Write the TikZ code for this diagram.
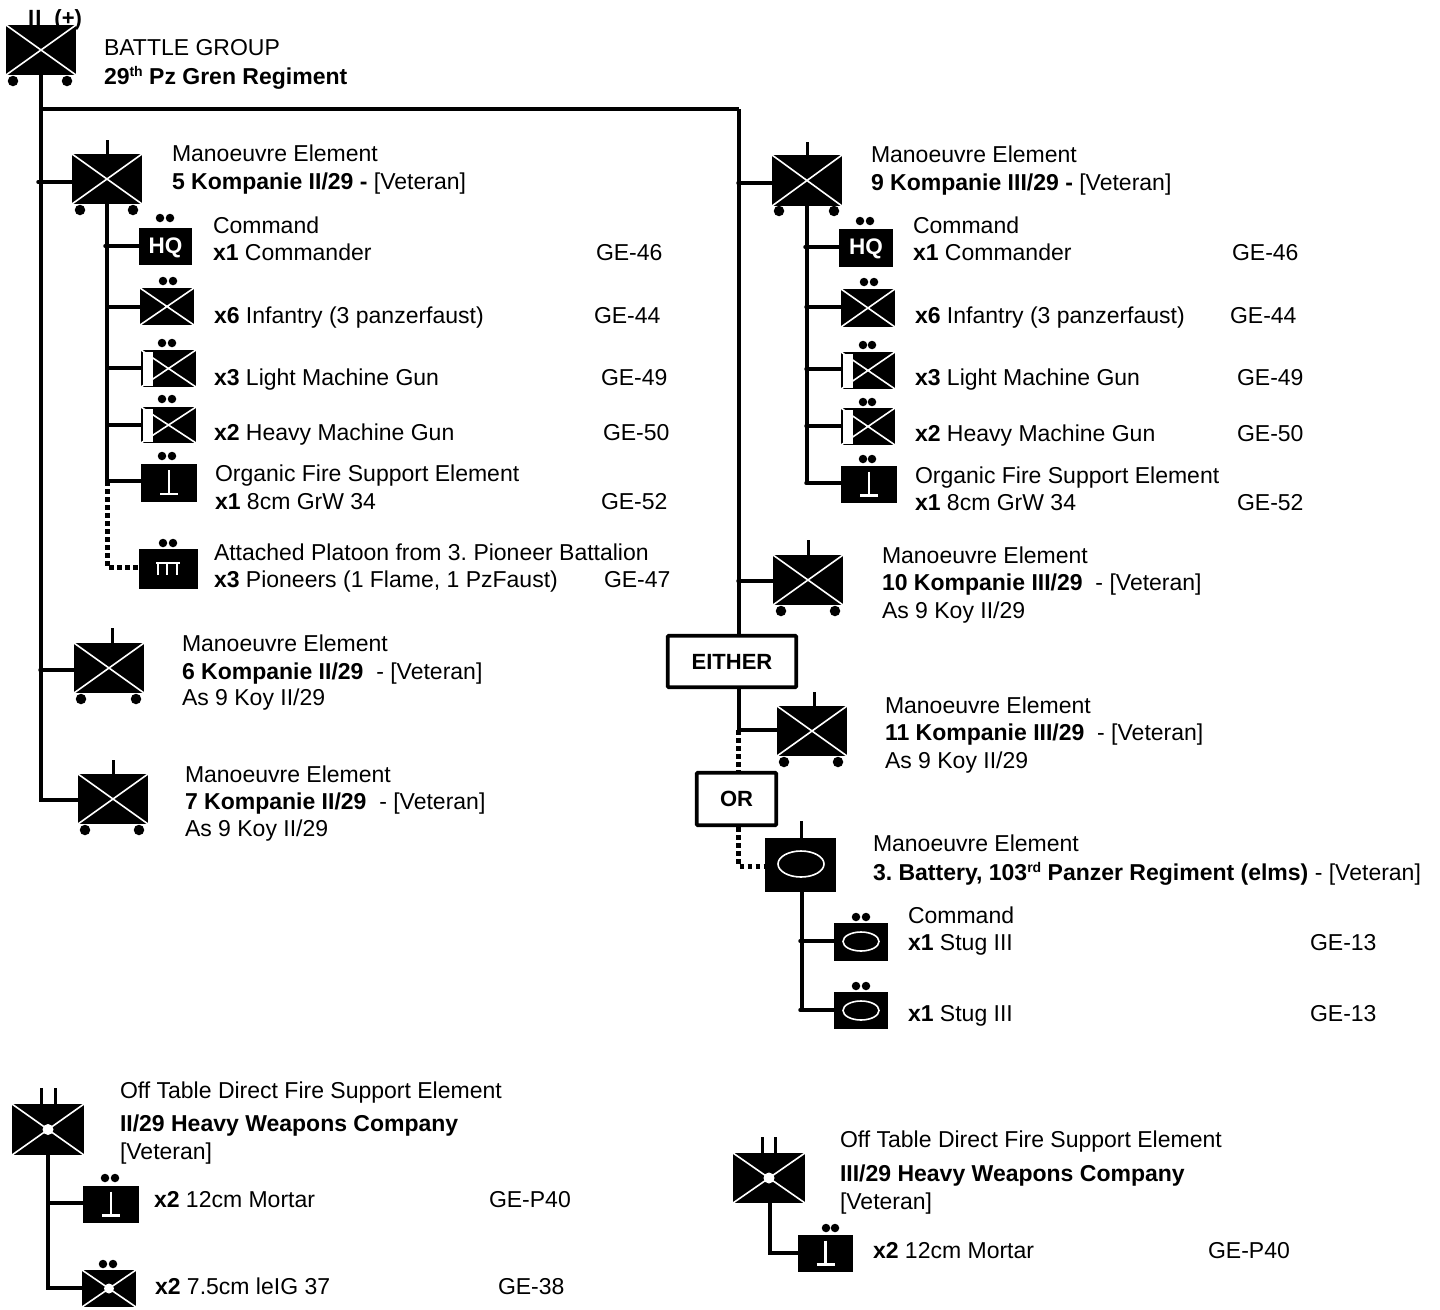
\documentclass[tikz,border=0pt]{standalone}
\usepackage{fontspec}
\setmainfont{Liberation Sans}
\usetikzlibrary{calc,shapes.geometric}
\newcommand\supr[1]{\raisebox{7.5pt}{\fontsize{14}{14}\selectfont #1}}
\tikzset{
  lbl/.style={inner sep=0pt,outer sep=0pt,anchor=base west,font=\fontsize{23}{25}\selectfont\frenchspacing,text=black},
  sym/.style={fill=black,draw=none,inner sep=0pt,outer sep=0pt},
  dotm/.style={circle,fill=black,draw=none,inner sep=0pt,minimum size=8.5pt},
  wheel/.style={circle,fill=black,draw=none,inner sep=0pt,minimum size=10.5pt},
  whitex/.style={draw=white,line width=1.6pt},
  conn/.style={draw=black,line width=4pt},
  thinconn/.style={draw=black,line width=3.5pt},
  dotconn/.style={draw=black,line width=5pt,dash pattern=on 4.5pt off 3.5pt},
  tick/.style={draw=black,line width=3pt},
  framebox/.style={draw=black,fill=white,line width=3.6pt,rounded corners=1pt,inner sep=0pt,font=\fontsize{22}{25}\selectfont\bfseries},
  whitesolid/.style={draw=white,line width=2.6pt},
}
\newcommand\rbox[5]{\node[sym,minimum width={(#4-#2)*1pt},minimum height={(#5-#3)*1pt}] (#1) at ({(#2+#4)/2},{(#3+#5)/2}) {};}
\newcommand\xbox[5]{\rbox{#1}{#2}{#3}{#4}{#5}
  \draw[whitex] (#1.north west) -- (#1.south east) (#1.north east) -- (#1.south west);}
\newcommand\wheels[4]{\node[wheel] (#1-wl) at (#2,#4) {}; \node[wheel] (#1-wr) at (#3,#4) {};}
\newcommand\twodots[4]{\node[dotm] (#1-da) at (#2,#4) {}; \node[dotm] (#1-db) at (#3,#4) {};}
\newcommand\onetick[4]{\coordinate (#1-t) at (#2,#3); \draw[tick] (#1-t) -- (#1-t |- #4.north);}
\newcommand\branch[4]{\coordinate (#1) at (#2,#3); \draw[thinconn,line cap=round] (#1) -- (#1 -| #4.west);}
\newcommand\mgbox[5]{\xbox{#1}{#2}{#3}{#4}{#5}
  \node[fill=white,draw=none,inner sep=0pt,minimum width=10pt,minimum height={(#5-#3-3)*1pt}] (#1-w) at ({#2+7},{(#3+#5)/2}) {};}
\newcommand\teesym[2]{\coordinate (#1-a) at ($(#2.center)+(0,-13)$); \coordinate (#1-b) at ($(#2.center)+(0,11)$);
  \draw[whitesolid] (#1-a) -- (#1-b);
  \draw[whitesolid,line width=2.8pt] ($(#1-b)+(-9,0)$) -- ($(#1-b)+(9,0)$);}
\newcommand\ovalsym[4]{\node[ellipse,draw=white,line width=1.6pt,fill=black,minimum width=#3pt,minimum height=#4pt,inner sep=0pt] (#1) at (#2) {};}
\newcommand\hub[2]{\node[circle,fill=white,inner sep=0pt,minimum size=#2pt] (#1-hub) at (#1.center) {};}
\begin{document}
\begin{tikzpicture}[x=1pt,y=-1pt]
\useasboundingbox (0,0) rectangle (1440,1309);

% --- top battle group
\node[inner sep=0pt,anchor=base west,font=\fontsize{22}{26}\selectfont\bfseries] (bgtag) at (28,25) {I\hspace*{1pt}I\hspace*{13pt}(+)};
\xbox{bg}{6}{25}{76}{75}
\wheels{bg}{13}{67}{81}
\node[lbl] (t1) at (104,55) {BATTLE GROUP};
\node[lbl] (t2) at (104,84) {\textbf{29\supr{th} Pz Gren Regiment}};

% --- main trunks
\coordinate (ltrunk) at (41,800);
\coordinate (rtop) at (738.5,109);
\coordinate (ljoin) at (41,109);

% --- 5 Kompanie
\xbox{u5}{72}{154}{142}{204}
\wheels{u5}{80}{133}{210}
\onetick{u5}{107}{140}{u5}
\node[lbl] (a1) at (172,161) {Manoeuvre Element};
\node[lbl] (a2) at (172,189) {\textbf{5 Kompanie II/29 -} [Veteran]};
\rbox{hq5}{139}{228}{192}{265}
\node[inner sep=0pt,text=white,font=\fontsize{22.5}{24}\selectfont\bfseries] (hq5t) at (165.5,248) {HQ};
\twodots{hq5}{160}{170}{218}
\node[lbl] (a3) at (213,233) {Command};
\node[lbl] (a4) at (213,260) {\textbf{x1} Commander};
\node[lbl] (a5) at (596,260) {GE-46};
\xbox{inf5}{140}{288}{194}{325}
\twodots{inf5}{163}{173}{281}
\node[lbl] (a6) at (214,323) {\textbf{x6} Infantry (3 panzerfaust)};
\node[lbl] (a7) at (594,323) {GE-44};
\mgbox{lmg5}{141}{350}{196}{387}
\twodots{lmg5}{162}{172}{343}
\node[lbl] (a8) at (214,385) {\textbf{x3} Light Machine Gun};
\node[lbl] (a9) at (601,385) {GE-49};
\mgbox{hmg5}{141}{407}{196}{443}
\twodots{hmg5}{162}{172}{399}
\node[lbl] (a10) at (214,440) {\textbf{x2} Heavy Machine Gun};
\node[lbl] (a11) at (603,440) {GE-50};
\rbox{mor5}{141}{464}{197}{502}
\teesym{mor5t}{mor5}
\twodots{mor5}{162}{172}{456}
\node[lbl] (a12) at (215,481) {Organic Fire Support Element};
\node[lbl] (a13) at (215,509) {\textbf{x1} 8cm GrW 34};
\node[lbl] (a14) at (601,509) {GE-52};
\rbox{pio5}{139}{549}{198}{589}
\twodots{pio5}{163}{173}{543}
\coordinate (pio5c) at (168,563);
\draw[whitesolid] ($(pio5c)+(-12,0)$) -- ($(pio5c)+(12,0)$);
\draw[white,line width=1.8pt] ($(pio5c)+(-10,0)$) -- ($(pio5c)+(-10,12)$) ($(pio5c)+(-1,0)$) -- ($(pio5c)+(-1,12)$) ($(pio5c)+(9,0)$) -- ($(pio5c)+(9,12)$);
\node[lbl] (a15) at (214,560) {Attached Platoon from 3. Pioneer Battalion};
\node[lbl] (a16) at (214,587) {\textbf{x3} Pioneers (1 Flame, 1 PzFaust)};
\node[lbl] (a17) at (604,587) {GE-47};
\coordinate (v5a) at (107,204);
\coordinate (v5b) at (107,481);
\coordinate (v5c) at (107,567);
\draw[conn] (v5a) -- (v5b);
\branch{b5a}{105}{246}{hq5}
\branch{b5b}{107}{307}{inf5}
\branch{b5c}{107}{368}{lmg5}
\branch{b5d}{107}{425}{hmg5}
\branch{b5e}{107}{481}{mor5}
\draw[dotconn] (v5b) -- (v5c) -- (v5c -| pio5.west);

% --- 6, 7 Kompanie
\xbox{u6}{74}{643}{144}{693}
\wheels{u6}{81}{136}{699}
\onetick{u6}{112}{628}{u6}
\node[lbl] (b1) at (182,651) {Manoeuvre Element};
\node[lbl] (b2) at (182,679) {\textbf{6 Kompanie II/29}\ \ - [Veteran]};
\node[lbl] (b3) at (182,705) {As 9 Koy II/29};
\xbox{u7}{78}{774}{148}{824}
\wheels{u7}{85}{139}{830}
\onetick{u7}{113}{760}{u7}
\node[lbl] (b4) at (185,782) {Manoeuvre Element};
\node[lbl] (b5) at (185,809) {\textbf{7 Kompanie II/29}\ \ - [Veteran]};
\node[lbl] (b6) at (185,836) {As 9 Koy II/29};

% --- left trunk
\draw[conn] (bg.south -| ljoin) -- (ltrunk) -- (ltrunk -| u7.west);
\branch{bu5}{38}{182}{u5}
\branch{bu6}{40}{670}{u6}
\draw[conn] (ljoin) -- (rtop);

% --- 9 Kompanie
\xbox{u9}{772}{155}{842}{206}
\wheels{u9}{779}{834}{211}
\onetick{u9}{807}{142}{u9}
\node[lbl] (c1) at (871,162) {Manoeuvre Element};
\node[lbl] (c2) at (871,190) {\textbf{9 Kompanie III/29 -} [Veteran]};
\rbox{hq9}{839}{229}{893}{267}
\node[inner sep=0pt,text=white,font=\fontsize{22.5}{24}\selectfont\bfseries] (hq9t) at (866,249) {HQ};
\twodots{hq9}{860}{870}{221}
\node[lbl] (c3) at (913,233) {Command};
\node[lbl] (c4) at (913,260) {\textbf{x1} Commander};
\node[lbl] (c5) at (1232,260) {GE-46};
\xbox{inf9}{841}{289}{895}{327}
\twodots{inf9}{864}{874}{282}
\node[lbl] (c6) at (915,323) {\textbf{x6} Infantry (3 panzerfaust)};
\node[lbl] (c7) at (1230,323) {GE-44};
\mgbox{lmg9}{841}{352}{895}{389}
\twodots{lmg9}{863}{872}{345}
\node[lbl] (c8) at (915,385) {\textbf{x3} Light Machine Gun};
\node[lbl] (c9) at (1237,385) {GE-49};
\mgbox{hmg9}{841}{408}{895}{445}
\twodots{hmg9}{863}{872}{402}
\node[lbl] (c10) at (915,441) {\textbf{x2} Heavy Machine Gun};
\node[lbl] (c11) at (1237,441) {GE-50};
\rbox{mor9}{841}{466}{897}{503}
\teesym{mor9t}{mor9}
\twodots{mor9}{863}{872}{459}
\node[lbl] (c12) at (915,483) {Organic Fire Support Element};
\node[lbl] (c13) at (915,510) {\textbf{x1} 8cm GrW 34};
\node[lbl] (c14) at (1237,510) {GE-52};
\coordinate (v9a) at (807,206);
\coordinate (v9b) at (807,483);
\draw[conn] (v9a) -- (v9b);
\branch{b9a}{805}{247}{hq9}
\branch{b9b}{806}{307}{inf9}
\branch{b9c}{806}{369}{lmg9}
\branch{b9d}{806}{426}{hmg9}
\branch{b9e}{806}{483}{mor9}

% --- 10, 11
\xbox{u10}{773}{555}{843}{605}
\wheels{u10}{781}{835}{611}
\onetick{u10}{808}{540}{u10}
\node[lbl] (d1) at (882,563) {Manoeuvre Element};
\node[lbl] (d2) at (882,590) {\textbf{10 Kompanie III/29}\ \ - [Veteran]};
\node[lbl] (d3) at (882,618) {As 9 Koy II/29};
\xbox{u11}{777}{706}{847}{756}
\wheels{u11}{784}{838}{762}
\onetick{u11}{814}{692}{u11}
\node[lbl] (d4) at (885,713) {Manoeuvre Element};
\node[lbl] (d5) at (885,740) {\textbf{11 Kompanie III/29}\ \ - [Veteran]};
\node[lbl] (d6) at (885,768) {As 9 Koy II/29};

\node[framebox,minimum width=128.5pt,minimum height=51.5pt] (either) at (732,661.5) {EITHER};
\node[framebox,minimum width=79.5pt,minimum height=52.5pt] (orbox) at (736.5,799) {OR};
\coordinate (rv) at (738.5,730);
\draw[conn] (rtop) -- (rtop |- either.north);
\draw[conn] (either.south -| rv) -- (rv) -- (rv -| u11.west);
\branch{bu9}{738}{183}{u9}
\branch{bu10}{738}{581}{u10}
\coordinate (rvd) at (738.5,866);
\draw[dotconn] (rv) -- (rv |- orbox.north);

% --- battery
\rbox{bat}{765}{838}{836}{892}
\onetick{bat}{801}{821}{bat}
\ovalsym{batov}{801,864}{46}{26}
\draw[dotconn] (orbox.south -| rv) -- (rvd) -- (rvd -| bat.west);
\node[lbl] (e1) at (873,851) {Manoeuvre Element};
\node[lbl] (e2) at (873,880) {\textbf{3. Battery, 103\supr{rd} Panzer Regiment (elms)} - [Veteran]};
\rbox{st1}{834}{923}{888}{961}
\ovalsym{st1ov}{861,941.5}{36}{19}
\twodots{st1}{856}{866}{917}
\node[lbl] (e3) at (908,923) {Command};
\node[lbl] (e4) at (908,950) {\textbf{x1} Stug III};
\node[lbl] (e5) at (1310,950) {GE-13};
\rbox{st2}{834}{992}{888}{1029}
\ovalsym{st2ov}{861,1010.5}{36}{19}
\twodots{st2}{856}{866}{986}
\node[lbl] (e6) at (908,1021) {\textbf{x1} Stug III};
\node[lbl] (e7) at (1310,1021) {GE-13};
\coordinate (sv) at (802,1010);
\draw[thinconn] (sv |- bat.south) -- (sv);
\branch{bs1}{800}{941}{st1}
\branch{bs2}{800}{1010}{st2}

% --- bottom left
\xbox{hw2}{12}{1104}{84}{1155}
\hub{hw2}{11}
\coordinate (hw2a) at (41,1088); \draw[tick] (hw2a) -- (hw2a |- hw2.north);
\coordinate (hw2b) at (55,1088); \draw[tick] (hw2b) -- (hw2b |- hw2.north);
\node[lbl] (f1) at (120,1098) {Off Table Direct Fire Support Element};
\node[lbl] (f2) at (120,1131) {\textbf{II/29 Heavy Weapons Company}};
\node[lbl] (f3) at (120,1159) {[Veteran]};
\rbox{hm2}{83}{1186}{139}{1223}
\teesym{hm2t}{hm2}
\twodots{hm2}{105}{115}{1178}
\node[lbl] (f4) at (154,1207) {\textbf{x2} 12cm Mortar};
\node[lbl] (f5) at (489,1207) {GE-P40};
\xbox{ig2}{82}{1270}{136}{1307}
\hub{ig2}{10}
\twodots{ig2}{103}{113}{1264}
\node[lbl] (f6) at (155,1294) {\textbf{x2} 7.5cm leIG 37};
\node[lbl] (f7) at (498,1294) {GE-38};
\coordinate (hv2) at (48,1288);
\draw[conn] (hv2 |- hw2.south) -- (hv2) -- (hv2 -| ig2.west);
\branch{bh2}{48}{1203}{hm2}

% --- bottom right
\xbox{hw3}{733}{1153}{805}{1203}
\hub{hw3}{11}
\coordinate (hw3a) at (762,1137); \draw[tick] (hw3a) -- (hw3a |- hw3.north);
\coordinate (hw3b) at (775,1137); \draw[tick] (hw3b) -- (hw3b |- hw3.north);
\node[lbl] (g1) at (840,1147) {Off Table Direct Fire Support Element};
\node[lbl] (g2) at (840,1181) {\textbf{III/29 Heavy Weapons Company}};
\node[lbl] (g3) at (840,1209) {[Veteran]};
\rbox{hm3}{798}{1235}{853}{1272}
\teesym{hm3t}{hm3}
\twodots{hm3}{826}{835}{1228}
\node[lbl] (g4) at (873,1258) {\textbf{x2} 12cm Mortar};
\node[lbl] (g5) at (1208,1258) {GE-P40};
\coordinate (hv3) at (770,1253);
\draw[conn] (hv3 |- hw3.south) -- (hv3) -- (hv3 -| hm3.west);
\end{tikzpicture}
\end{document}
